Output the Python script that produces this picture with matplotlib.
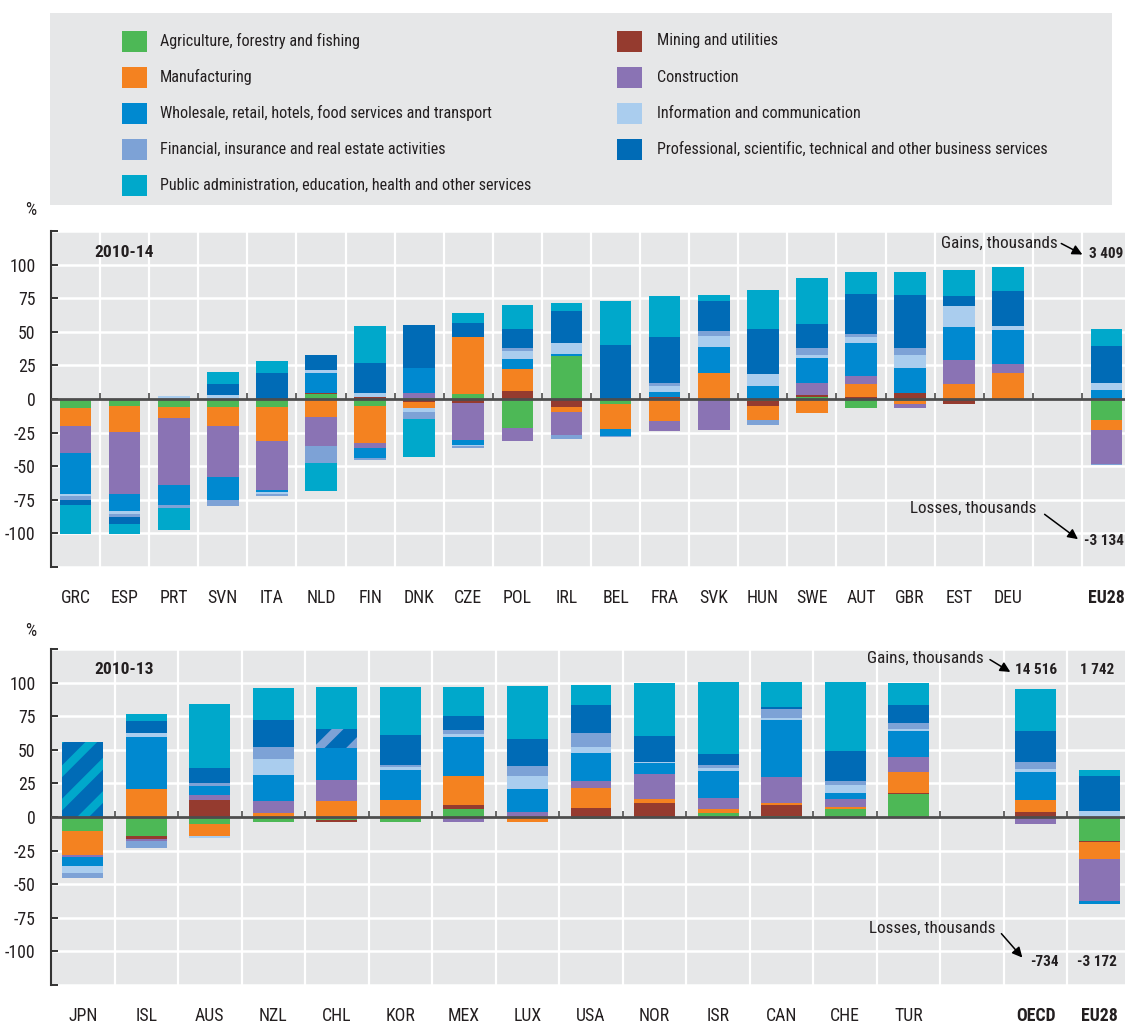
import matplotlib
matplotlib.use('Agg')
import matplotlib.pyplot as plt
import numpy as np
from matplotlib import font_manager

# ---------- font choice: prefer a condensed sans ----------
_entries = font_manager.fontManager.ttflist
_names = {f.name for f in _entries}
FONT, STRETCH, CONDENSED = 'Liberation Sans', 'normal', False
for cand in ['Liberation Sans Narrow', 'Roboto Condensed', 'Open Sans Condensed',
             'Noto Sans Condensed', 'DejaVu Sans Condensed', 'Arial Narrow']:
    if cand in _names:
        FONT, CONDENSED = cand, True
        break
if not CONDENSED:
    for f in _entries:
        if f.name == 'DejaVu Sans' and str(f.stretch) in ('condensed', 'semi-condensed', '75', '87'):
            FONT, STRETCH, CONDENSED = 'DejaVu Sans', 'condensed', True
            break
plt.rcParams['font.family'] = [FONT, 'DejaVu Sans']
plt.rcParams['font.stretch'] = STRETCH
plt.rcParams['hatch.linewidth'] = 6.0
SZ = 1.0 if CONDENSED else 0.82

# ---------------- data ----------------
sector_labels = [
    "Agriculture, forestry and fishing",
    "Mining and utilities",
    "Manufacturing",
    "Construction",
    "Wholesale, retail, hotels, food services and transport",
    "Information and communication",
    "Financial, insurance and real estate activities",
    "Professional, scientific, technical and other business services",
    "Public administration, education, health and other services",
]

top_countries = ["GRC", "ESP", "PRT", "SVN", "ITA", "NLD", "FIN", "DNK", "CZE", "POL",
                 "IRL", "BEL", "FRA", "SVK", "HUN", "SWE", "AUT", "GBR", "EST", "DEU", "EU28"]
top_agri = [-7, -5, -6.2, -5.7, -6.2, 3.5, -5, 0.7, 3.7, -21.9, 31.8, -4, 0, 0, -1.5, 1.5, -7, -1.2, -1, 0, -15.7]
top_mining = [0, 0, 0, 0, 0, 1, 1.7, -2, -3.2, 6.2, -5.7, 0, 1.7, 0, -3.7, 1.5, 1.7, 4.5, -2.5, -1, 0]
top_manuf = [-13.4, -19.9, -8.2, -14.7, -25.4, -13.7, -27.6, -4.5, 42.3, 16.2, -4.2, -18.4, -16.2, 19.7, -10.4, -10.7, 9.5, -2.5, 11.2, 19.7, -7.5]
top_constr = [-19.7, -45.5, -49.5, -37.6, -35.8, -21.6, -4, 3.7, -27.4, -9.5, -16.7, 0, -7.7, -23.1, 0, 9.2, 5.7, -3.2, 17.9, 6.5, -24.9]
top_wholesale = [-30.3, -12.9, -15.2, -17.2, -1.5, 14.7, -7.5, 18.9, -3.5, 7.5, 2, -5.2, 3.7, 18.7, 10, 18.2, 24.6, 18.9, 24.4, 24.9, 7]
top_info = [-2, -2, 2.5, 3, -1.5, 2.5, 2.7, -3, -1, 5.7, 7.5, 0, 4.5, 8.7, 8.5, 2.7, 4.5, 9.5, 15.4, 3.5, 4.7]
top_fin = [-3, -2.5, -1.7, -4.7, -2, -12.2, -1.5, -5.5, -1, 2, -3, -1, 2, 3.7, -3.5, 4.7, 2.5, 4.7, 0, 0, -0.7]
top_prof = [-3.5, -5, 0, 8.2, 19.7, 10.7, 22.6, 32.1, 10.4, 14.2, 23.9, 40.5, 34.3, 21.9, 33.3, 18.2, 29.9, 39.6, 7.5, 25.6, 27.9]
top_public = [-21.9, -7.5, -16.9, 9.2, 8.5, -20.9, 27.4, -28.4, 7.5, 17.9, 6.5, 32.1, 30.1, 4.5, 29.4, 34.1, 16.2, 17.4, 19.9, 18.2, 12.2]

bot_countries = ["JPN", "ISL", "AUS", "NZL", "CHL", "KOR", "MEX", "LUX", "USA", "NOR",
                 "ISR", "CAN", "CHE", "TUR", "OECD", "EU28"]
bot_agri = [-10.2, -13.9, -5.2, -3.5, -2.5, -3.5, 5.7, 0, -1.5, 0, 3.2, 1, 6.2, 17.1, 0, -17.6]
bot_mining = [0, -2.7, 12.4, 0, -1, 0, 3, 0, 6.7, 10.2, 0, 8.2, 0, 1, 3.7, -1]
bot_manuf = [-17.9, 20.8, -8.7, 3, 11.7, 12.9, 21.8, -3.5, 15.1, 3.2, 2.5, 1, 1, 15.1, 8.7, -12.4]
bot_constr = [-1.7, -1.2, 3.7, 8.7, 15.9, 0, -3.5, 3.7, 4.7, 18.9, 8.4, 19.4, 6.2, 11.4, -5.2, -31.5]
bot_wholesale = [-6.9, 38.7, 6.9, 19.6, 23.8, 22.3, 29, 17.1, 20.8, 7.7, 20.1, 42.4, 4.7, 19.1, 21.1, -2]
bot_info = [-4.7, 2.7, -1.7, 11.7, 0, 1.7, 2, 9.7, 4.7, 1, 2, 2, 6, 1.5, 2.5, 4.5]
bot_fin = [-3.7, -5.5, 2.5, 9.2, 0, 2, 3, 7.4, 10.2, 0, 2.7, 6, 2.5, 5, 5, 0]
bot_combined = [55.8, 0, 0, 0, 13.9, 0, 0, 0, 0, 0, 0, 0, 0, 0, 0, 0]
bot_prof = [0, 8.9, 10.7, 19.9, 0, 21.8, 10.4, 19.9, 21.1, 19.6, 7.7, 1.5, 22.8, 13.2, 22.8, 26.1]
bot_public = [0, 5.5, 48.1, 23.6, 31.3, 36.2, 21.6, 39.7, 15.1, 39, 53.8, 19.1, 51.1, 16.1, 31.8, 4.5]

top_gains = "3 409"
top_losses = "-3 134"
bot_gains = ["14 516", "1 742"]
bot_losses = ["-734", "-3 172"]

# ---------------- style ----------------
colors = ['#4db856', '#953b2f', '#f48220', '#8a73b4', '#0089d0',
          '#aacdee', '#7da2d6', '#006bb6', '#00a8cb']
combined_stripe = {"JPN": '#00a8cb', "CHL": '#7da2d6'}
BG = '#e6e7e8'
TXT = '#231f20'
FS_TICK = 12.8 * SZ
FS_LEG = 11.6 * SZ
FS_ANN = 12.3 * SZ
FS_NUM = 11 * SZ
FS_PER = 12.5 * SZ

W, H = 1125, 1026
fig = plt.figure(figsize=(W / 100, H / 100), dpi=100)
fig.patch.set_facecolor('white')


def px_axes(l, t, r, b):
    return fig.add_axes([l / W, 1 - b / H, (r - l) / W, (b - t) / H])


# ---------------- legend ----------------
lax = px_axes(50, 13, 1112, 205)
lax.set_xlim(50, 1112)
lax.set_ylim(205, 13)
lax.set_facecolor(BG)
lax.set_xticks([])
lax.set_yticks([])
for s in lax.spines.values():
    s.set_visible(False)
col1 = [0, 2, 4, 6, 8]
col2 = [1, 3, 5, 7]
rows_y = [41, 77, 113, 149, 185]
for col, (px, tx) in zip([col1, col2], [(122, 160), (617, 657)]):
    for k, si in enumerate(col):
        y = rows_y[k]
        lax.add_patch(plt.Rectangle((px, y - 10.5), 25, 21, facecolor=colors[si], edgecolor='none'))
        lax.text(tx, y, sector_labels[si], va='center', ha='left', fontsize=FS_LEG, color=TXT)


# ---------------- panels ----------------
def draw_panel(ax, countries, series, nslots, xpos, period, combined=None):
    xpos = np.array(xpos, dtype=float)
    n = len(countries)
    pb = np.zeros(n)
    nb = np.zeros(n)
    width = 0.645
    for si, vals in enumerate(series):
        v = np.array(vals, dtype=float)
        if combined is not None and si == 7:
            cv = np.array(combined, dtype=float)
            for i in range(n):
                if cv[i] > 0:
                    ax.bar(xpos[i], cv[i], bottom=pb[i], width=width, color=colors[7],
                           hatch='/', edgecolor=combined_stripe[countries[i]], linewidth=0, zorder=2)
            pb += cv
        pos = np.where(v > 0, v, 0)
        neg = np.where(v < 0, v, 0)
        ax.bar(xpos, pos, bottom=pb, width=width, color=colors[si], linewidth=0, zorder=2)
        ax.bar(xpos, neg, bottom=nb, width=width, color=colors[si], linewidth=0, zorder=2)
        pb += pos
        nb += neg

    ax.set_facecolor(BG)
    ax.set_xlim(-0.5, nslots - 0.5)
    ax.set_ylim(-125, 125)
    yt = np.arange(-125, 126, 25)
    ax.set_yticks(yt)
    ax.set_yticklabels(['' if abs(t) == 125 else str(t) for t in yt])
    ax.set_xticks(xpos)
    ax.set_xticklabels(countries)
    bounds = np.arange(0.5, nslots - 0.5, 1)
    ax.set_xticks(bounds, minor=True)
    ax.tick_params(axis='x', which='both', length=0, pad=16, labelsize=FS_TICK, labelcolor=TXT)
    ax.tick_params(axis='y', which='major', direction='in', length=5, width=1.4,
                   color='#333333', pad=11, labelsize=FS_TICK, labelcolor=TXT)
    ax.grid(axis='x', which='minor', color='white', lw=1.6, zorder=0)
    ax.grid(axis='y', which='major', color='white', lw=1.8, zorder=0)
    ax.set_axisbelow(True)
    for k in ['top', 'right', 'bottom']:
        ax.spines[k].set_visible(False)
    ax.spines['left'].set_color('#333333')
    ax.spines['left'].set_linewidth(1.5)
    ax.axhline(0, color='#4d4d4d', lw=2, zorder=3)
    ax.vlines(bounds, 0, 4.8, color='#4d4d4d', lw=1.2, zorder=3)
    for lab in ax.get_xticklabels():
        if lab.get_text() in ('EU28', 'OECD'):
            lab.set_fontweight('bold')
    ax.text(0.04, 0.9375, period, transform=ax.transAxes, fontsize=FS_PER, fontweight='bold',
            color=TXT, va='center', ha='left')


top_series = [top_agri, top_mining, top_manuf, top_constr, top_wholesale,
              top_info, top_fin, top_prof, top_public]
bot_series = [bot_agri, bot_mining, bot_manuf, bot_constr, bot_wholesale,
              bot_info, bot_fin, bot_prof, bot_public]

ax1 = px_axes(51, 231, 1131, 567)
top_x = list(range(len(top_countries) - 1)) + [len(top_countries)]
draw_panel(ax1, top_countries, top_series, 22, top_x, "2010-14")

ax2 = px_axes(51, 649, 1131, 985)
bot_x = list(range(len(bot_countries) - 2)) + [len(bot_countries) - 1, len(bot_countries)]
draw_panel(ax2, bot_countries, bot_series, 17, bot_x, "2010-13", combined=bot_combined)

arrow = dict(arrowstyle='-|>', color='black', lw=1.1, mutation_scale=15, shrinkA=0, shrinkB=0)

# top annotations
ax1.text(20.0, 115.7, "Gains, thousands", ha='right', va='center', fontsize=FS_ANN, color=TXT)
ax1.annotate('', xy=(20.51, 107.5), xytext=(20.08, 115.7), arrowprops=arrow)
ax1.text(21.0, 108.2, top_gains, ha='center', va='center', fontsize=FS_NUM, fontweight='bold', color=TXT)
ax1.text(19.58, -81.3, "Losses, thousands", ha='right', va='center', fontsize=FS_ANN, color=TXT)
ax1.annotate('', xy=(20.42, -104.3), xytext=(19.74, -85.8), arrowprops=arrow)
ax1.text(20.95, -105.7, top_losses, ha='center', va='center', fontsize=FS_NUM, fontweight='bold', color=TXT)

# bottom annotations
ax2.text(14.19, 117.9, "Gains, thousands", ha='right', va='center', fontsize=FS_ANN, color=TXT)
ax2.annotate('', xy=(14.6, 107.9), xytext=(14.28, 117.1), arrowprops=arrow)
ax2.text(15.0, 109.2, bot_gains[0], ha='center', va='center', fontsize=FS_NUM, fontweight='bold', color=TXT)
ax2.text(15.97, 109.2, bot_gains[1], ha='center', va='center', fontsize=FS_NUM, fontweight='bold', color=TXT)
ax2.text(14.37, -83.0, "Losses, thousands", ha='right', va='center', fontsize=FS_ANN, color=TXT)
ax2.annotate('', xy=(14.79, -104.6), xytext=(14.46, -86.8), arrowprops=arrow)
ax2.text(15.14, -107.9, bot_losses[0], ha='center', va='center', fontsize=FS_NUM, fontweight='bold', color=TXT)
ax2.text(15.97, -107.9, bot_losses[1], ha='center', va='center', fontsize=FS_NUM, fontweight='bold', color=TXT)

fig.text(31 / W, 1 - 210 / H, '%', ha='center', va='center', fontsize=FS_TICK, color=TXT)
fig.text(31 / W, 1 - 631 / H, '%', ha='center', va='center', fontsize=FS_TICK, color=TXT)

fig.savefig('out.png', dpi=100, facecolor='white')
